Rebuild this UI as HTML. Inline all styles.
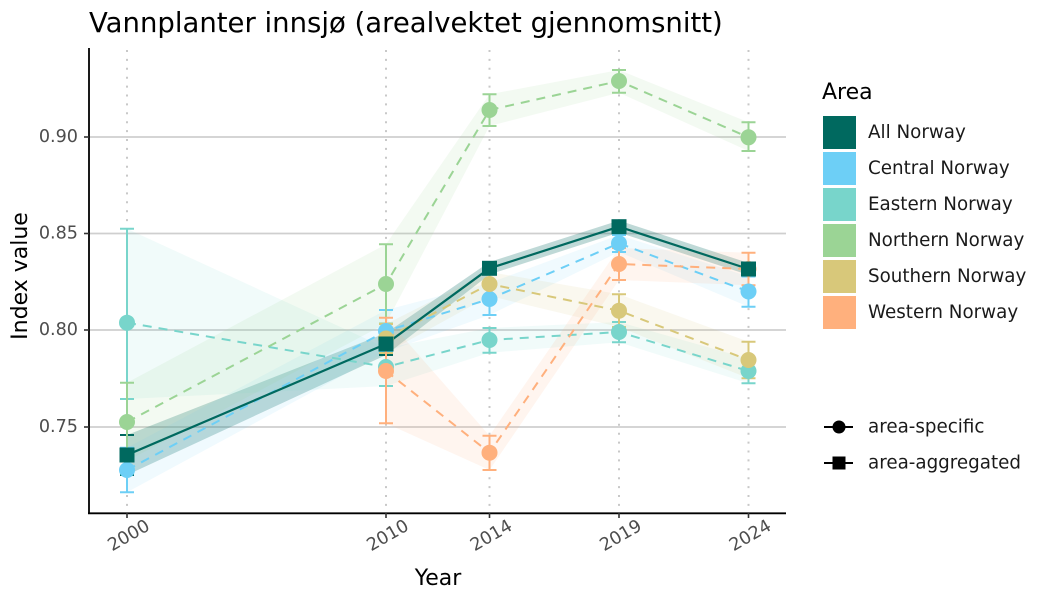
<!DOCTYPE html>
<html><head><meta charset="utf-8"><style>
html,body{margin:0;padding:0;background:#fff;}
svg{display:block;font-family:"DejaVu Sans","Liberation Sans",sans-serif;}
</style></head><body>
<svg width="1050" height="600" viewBox="0 0 1050 600" xmlns="http://www.w3.org/2000/svg">
<rect width="1050" height="600" fill="#fff"/>
<!-- title -->
<text x="89" y="32" font-size="27.5" fill="#000">Vannplanter innsjø (arealvektet gjennomsnitt)</text>

<!-- gridlines -->
<g stroke="#cfcfcf" stroke-width="1.7">
<line x1="89" y1="137" x2="786" y2="137"/>
<line x1="89" y1="233.5" x2="786" y2="233.5"/>
<line x1="89" y1="330" x2="786" y2="330"/>
<line x1="89" y1="427" x2="786" y2="427"/>
</g>
<g stroke="#c8c8c8" stroke-width="2" stroke-dasharray="2 6.9">
<line x1="127" y1="50" x2="127" y2="513"/>
<line x1="386" y1="50" x2="386" y2="513"/>
<line x1="489.5" y1="50" x2="489.5" y2="513"/>
<line x1="619" y1="50" x2="619" y2="513"/>
<line x1="748.5" y1="50" x2="748.5" y2="513"/>
</g>

<!-- ribbons -->
<g stroke="none">
<polygon fill="#00695f" fill-opacity="0.25" points="127,435 386,333 489.5,262 619,220.5 748.5,263 748.5,275 619,232.5 489.5,274.5 386,355 127,475"/>
<polygon fill="#6dcff6" fill-opacity="0.1" points="127,447.7 386,310 489.5,283 619,235 748.5,276.5 748.5,306.7 619,252 489.5,315 386,352 127,492.3"/>
<polygon fill="#78d5cb" fill-opacity="0.1" points="127,228.7 386,348 489.5,328 619,322 748.5,358.7 748.5,383.3 619,342.3 489.5,352.7 386,386 127,399"/>
<polygon fill="#9bd495" fill-opacity="0.12" points="127,382.7 386,244.3 489.5,94.3 619,70 748.5,122.3 748.5,151 619,92.7 489.5,126 386,323.5 127,461"/>
<polygon fill="#d8c87a" fill-opacity="0.12" points="386,324 489.5,272 619,294.3 748.5,341.7 748.5,378.3 619,327 489.5,296 386,353"/>
<polygon fill="#ffb07d" fill-opacity="0.12" points="386,317.7 489.5,435.7 619,248 748.5,252.7 748.5,285.3 619,280 489.5,470 386,423.3"/>
</g>

<!-- dashed lines -->
<g fill="none" stroke-width="2" stroke-dasharray="9 7">
<polyline stroke="#6dcff6" points="127,470 386,331 489.5,299 619,243.3 748.5,291.5"/>
<polyline stroke="#78d5cb" points="127,322.7 386,367 489.5,340 619,332 748.5,371"/>
<polyline stroke="#9bd495" points="127,422 386,284 489.5,110 619,81 748.5,137.3"/>
<polyline stroke="#d8c87a" points="386,338.5 489.5,284 619,310.7 748.5,360"/>
<polyline stroke="#ffb07d" points="386,371 489.5,452.7 619,264 748.5,269"/>
</g>
<!-- solid All Norway -->
<polyline fill="none" stroke="#00695f" stroke-width="2.2" points="127,455 386,344 489.5,268.3 619,226.7 748.5,269"/>

<!-- error bars -->
<g fill="none" stroke-width="2">
<g stroke="#00695f">
<path d="M127,435V475M120,435H134M120,475H134"/>
<path d="M386,333V355M379,333H393M379,355H393"/>
<path d="M489.5,262V274.5M482.5,262H496.5M482.5,274.5H496.5"/>
<path d="M619,220.5V232.5M612,220.5H626M612,232.5H626"/>
<path d="M748.5,263V275M741.5,263H755.5M741.5,275H755.5"/>
</g>
<g stroke="#6dcff6">
<path d="M127,447.7V492.3M120,447.7H134M120,492.3H134"/>
<path d="M386,310V352M379,310H393M379,352H393"/>
<path d="M489.5,283V315M482.5,283H496.5M482.5,315H496.5"/>
<path d="M619,235V252M612,235H626M612,252H626"/>
<path d="M748.5,276.5V306.7M741.5,276.5H755.5M741.5,306.7H755.5"/>
</g>
<g stroke="#78d5cb">
<path d="M127,228.7V399M120,228.7H134M120,399H134"/>
<path d="M386,348V386M379,348H393M379,386H393"/>
<path d="M489.5,328V352.7M482.5,328H496.5M482.5,352.7H496.5"/>
<path d="M619,322V342.3M612,322H626M612,342.3H626"/>
<path d="M748.5,358.7V383.3M741.5,358.7H755.5M741.5,383.3H755.5"/>
</g>
<g stroke="#9bd495">
<path d="M127,382.7V461M120,382.7H134M120,461H134"/>
<path d="M386,244.3V323.5M379,244.3H393M379,323.5H393"/>
<path d="M489.5,94.3V126M482.5,94.3H496.5M482.5,126H496.5"/>
<path d="M619,70V92.7M612,70H626M612,92.7H626"/>
<path d="M748.5,122.3V151M741.5,122.3H755.5M741.5,151H755.5"/>
</g>
<g stroke="#d8c87a">
<path d="M386,324V353M379,324H393M379,353H393"/>
<path d="M489.5,272V296M482.5,272H496.5M482.5,296H496.5"/>
<path d="M619,294.3V327M612,294.3H626M612,327H626"/>
<path d="M748.5,341.7V378.3M741.5,341.7H755.5M741.5,378.3H755.5"/>
</g>
<g stroke="#ffb07d">
<path d="M386,317.7V423.3M379,317.7H393M379,423.3H393"/>
<path d="M489.5,435.7V470M482.5,435.7H496.5M482.5,470H496.5"/>
<path d="M619,248V280M612,248H626M612,280H626"/>
<path d="M748.5,252.7V285.3M741.5,252.7H755.5M741.5,285.3H755.5"/>
</g>
</g>

<!-- points -->
<g stroke="none">
<g fill="#6dcff6">
<circle cx="127" cy="470" r="8"/><circle cx="386" cy="331" r="8"/><circle cx="489.5" cy="299" r="8"/><circle cx="619" cy="243.3" r="8"/><circle cx="748.5" cy="291.5" r="8"/>
</g>
<g fill="#78d5cb">
<circle cx="127" cy="322.7" r="8"/><circle cx="386" cy="367" r="8"/><circle cx="489.5" cy="340" r="8"/><circle cx="619" cy="332" r="8"/><circle cx="748.5" cy="371" r="8"/>
</g>
<g fill="#9bd495">
<circle cx="127" cy="422" r="8"/><circle cx="386" cy="284" r="8"/><circle cx="489.5" cy="110" r="8"/><circle cx="619" cy="81" r="8"/><circle cx="748.5" cy="137.3" r="8"/>
</g>
<g fill="#d8c87a">
<circle cx="386" cy="338.5" r="8"/><circle cx="489.5" cy="284" r="8"/><circle cx="619" cy="310.7" r="8"/><circle cx="748.5" cy="360" r="8"/>
</g>
<g fill="#ffb07d">
<circle cx="386" cy="371" r="8"/><circle cx="489.5" cy="452.7" r="8"/><circle cx="619" cy="264" r="8"/><circle cx="748.5" cy="269" r="8"/>
</g>
<g fill="#00695f">
<rect x="119.5" y="447.5" width="15" height="15"/>
<rect x="378.5" y="336.5" width="15" height="15"/>
<rect x="482" y="260.8" width="15" height="15"/>
<rect x="611.5" y="219.2" width="15" height="15"/>
<rect x="741" y="261.5" width="15" height="15"/>
</g>
</g>

<!-- axes -->
<g stroke="#000" stroke-width="1.8">
<line x1="89" y1="48" x2="89" y2="514"/>
<line x1="88" y1="513.3" x2="786" y2="513.3"/>
</g>
<g stroke="#333" stroke-width="1.6">
<line x1="84" y1="137" x2="89" y2="137"/>
<line x1="84" y1="233.5" x2="89" y2="233.5"/>
<line x1="84" y1="330" x2="89" y2="330"/>
<line x1="84" y1="427" x2="89" y2="427"/>
<line x1="127" y1="513" x2="127" y2="518"/>
<line x1="386" y1="513" x2="386" y2="518"/>
<line x1="489.5" y1="513" x2="489.5" y2="518"/>
<line x1="619" y1="513" x2="619" y2="518"/>
<line x1="748.5" y1="513" x2="748.5" y2="518"/>
</g>
<g font-size="17.6" fill="#4d4d4d" text-anchor="end" dominant-baseline="central">
<text x="78" y="137">0.90</text>
<text x="78" y="233.5">0.85</text>
<text x="78" y="330">0.80</text>
<text x="78" y="427">0.75</text>
</g>
<g font-size="17.6" fill="#4d4d4d" text-anchor="middle" dominant-baseline="central">
<text transform="translate(129,536) rotate(-30)">2000</text>
<text transform="translate(388,536) rotate(-30)">2010</text>
<text transform="translate(491.5,536) rotate(-30)">2014</text>
<text transform="translate(621,536) rotate(-30)">2019</text>
<text transform="translate(750.5,536) rotate(-30)">2024</text>
</g>
<text x="438" y="585" font-size="22" fill="#000" text-anchor="middle">Year</text>
<text transform="translate(27,276) rotate(-90)" font-size="22" fill="#000" text-anchor="middle">Index value</text>

<!-- legend -->
<text x="822" y="99" font-size="22" fill="#000">Area</text>
<g stroke="none">
<rect x="823" y="116" width="33" height="33" fill="#00695f"/>
<rect x="823" y="152" width="33" height="33" fill="#6dcff6"/>
<rect x="823" y="188" width="33" height="33" fill="#78d5cb"/>
<rect x="823" y="224" width="33" height="33" fill="#9bd495"/>
<rect x="823" y="260" width="33" height="33" fill="#d8c87a"/>
<rect x="823" y="296" width="33" height="33" fill="#ffb07d"/>
</g>
<g font-size="18.3" fill="#1a1a1a" dominant-baseline="central">
<text x="868" y="132.5">All Norway</text>
<text x="868" y="168.5">Central Norway</text>
<text x="868" y="204.5">Eastern Norway</text>
<text x="868" y="240.5">Northern Norway</text>
<text x="868" y="276.5">Southern Norway</text>
<text x="868" y="312.5">Western Norway</text>
<text x="868" y="427">area-specific</text>
<text x="868" y="463">area-aggregated</text>
</g>
<g stroke="#000" stroke-width="2">
<line x1="824" y1="427" x2="853" y2="427"/>
<line x1="824" y1="463" x2="853" y2="463"/>
</g>
<circle cx="839" cy="427" r="6.5" fill="#000"/>
<rect x="832.5" y="456.5" width="13" height="13" fill="#000"/>
</svg>
</body></html>
